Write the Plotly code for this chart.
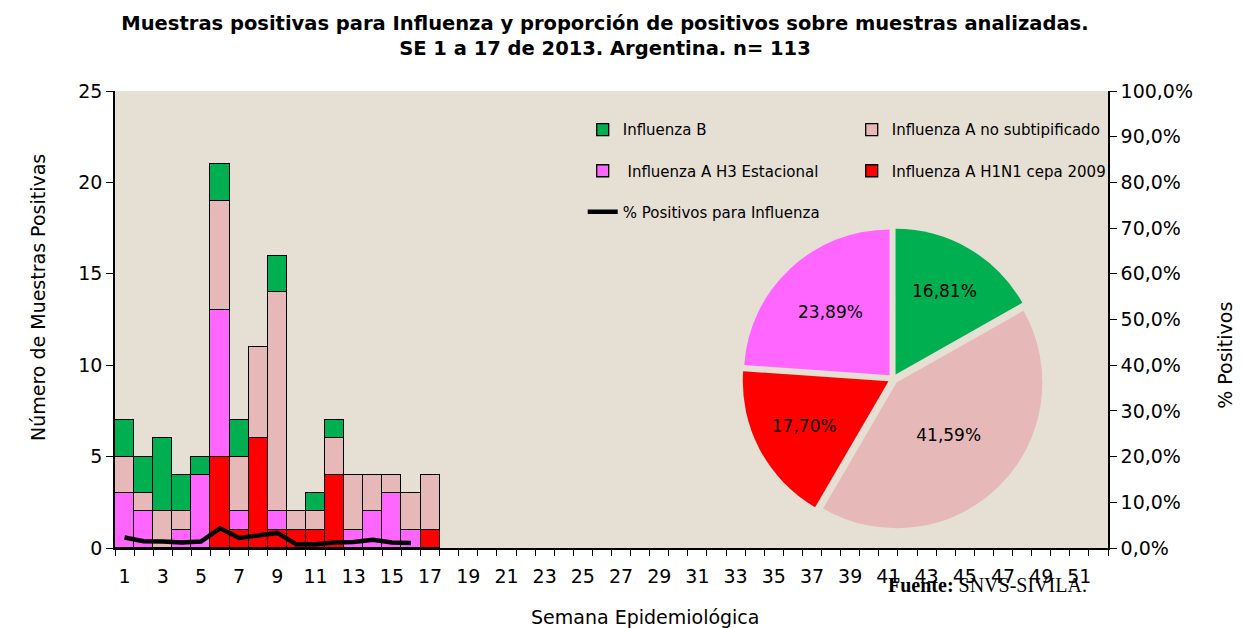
import plotly.graph_objects as go

weeks = list(range(1, 18))
h1n1 = [0, 0, 0, 0, 0, 5, 1, 6, 1, 1, 1, 4, 0, 0, 0, 0, 1]
h3 = [3, 2, 0, 1, 4, 8, 1, 0, 1, 0, 0, 0, 1, 2, 3, 1, 0]
a_nosub = [2, 1, 2, 1, 0, 6, 3, 5, 12, 1, 1, 2, 3, 2, 1, 2, 3]
flu_b = [2, 2, 4, 2, 1, 2, 2, 0, 2, 0, 1, 1, 0, 0, 0, 0, 0]
pct_weeks = list(range(1, 17))
pct_pos = [2.3, 1.5, 1.4, 1.2, 1.4, 4.3, 2.2, 2.7, 3.3, 0.8, 0.8, 1.2, 1.3, 1.8, 1.2, 1.1]
x_ticks = list(range(1, 52, 2))

pie_labels = ["Influenza B", "Influenza A no subtipificado",
              "Influenza A H1N1 cepa 2009", "Influenza A H3 Estacional"]
pie_values = [sum(flu_b), sum(a_nosub), sum(h1n1), sum(h3)]

C_RED = "#FF0000"
C_MAG = "#FF66FF"
C_PINK = "#E6B8B7"
C_GREEN = "#00B050"
FONT = "DejaVu Sans"

fig = go.Figure()
bar_line = dict(color="black", width=1.3)
fig.add_bar(x=weeks, y=h1n1, name="Influenza A H1N1 cepa 2009",
            marker=dict(color=C_RED, line=bar_line), legend="legend2", legendrank=2)
fig.add_bar(x=weeks, y=h3, name=" Influenza A H3 Estacional",
            marker=dict(color=C_MAG, line=bar_line), legend="legend2", legendrank=1)
fig.add_bar(x=weeks, y=a_nosub, name="Influenza A no subtipificado",
            marker=dict(color=C_PINK, line=bar_line), legend="legend", legendrank=2)
fig.add_bar(x=weeks, y=flu_b, name="Influenza B",
            marker=dict(color=C_GREEN, line=bar_line), legend="legend", legendrank=1)
fig.add_scatter(x=pct_weeks, y=pct_pos, yaxis="y2", mode="lines",
                name="% Positivos para Influenza",
                line=dict(color="black", width=4.5), legend="legend3")

fig.add_pie(labels=pie_labels, values=pie_values, sort=False, direction="clockwise",
            rotation=0, pull=0.035, showlegend=False,
            marker=dict(colors=[C_GREEN, C_PINK, C_RED, C_MAG], line=dict(width=0)),
            textinfo="percent", texttemplate="%{percent:.2%}",
            textposition="inside", insidetextorientation="horizontal",
            insidetextfont=dict(color="black", size=17, family=FONT),
            domain=dict(x=[0.6294, 0.9376], y=[0.04, 0.70]))

leg_common = dict(orientation="h", x=0.471, xanchor="left", yanchor="middle",
                  bgcolor="rgba(0,0,0,0)", font=dict(family=FONT, size=15, color="black"),
                  entrywidth=224, entrywidthmode="pixels", itemwidth=30,
                  traceorder="normal")

axis_title_font = dict(family=FONT, size=19, color="black")

# the page body adds an 8px offset; figure is sized to fill the rest of the window
fig.update_layout(
    width=1235, height=620,
    margin=dict(l=107, r=135, t=83, b=80, autoexpand=False),
    paper_bgcolor="white",
    plot_bgcolor="#E5DFD4",
    barmode="stack",
    bargap=0,
    separators=",.",
    title=dict(text="Muestras positivas para Influenza y proporción de positivos sobre muestras analizadas.<br>SE 1 a 17 de 2013. Argentina. n= 113",
               x=0.4834, xanchor="center", y=0.9645, yanchor="top",
               font=dict(family=FONT, size=19.5, color="black", weight="bold")),
    xaxis=dict(range=[0.5, 52.5], tickmode="array", tickvals=x_ticks, automargin=False,
               ticks="outside", ticklen=10, tickcolor="rgba(0,0,0,0)",
               minor=dict(tick0=0.5, dtick=1, ticks="outside", ticklen=6,
                          tickcolor="black", showgrid=False),
               showline=True, linecolor="black", linewidth=1.5, showgrid=False,
               zeroline=False,
               tickfont=dict(family=FONT, size=19, color="black")),
    yaxis=dict(range=[0, 25], dtick=5, ticks="outside", ticklen=7, tickcolor="black",
               automargin=False,
               showline=True, linecolor="black", linewidth=1.5, showgrid=False,
               zeroline=False,
               tickfont=dict(family=FONT, size=19, color="black")),
    yaxis2=dict(range=[0, 100], dtick=10, overlaying="y", side="right",
                automargin=False,
                tickformat=".1f", ticksuffix="%",
                ticks="outside", ticklen=7, tickcolor="black",
                showline=True, linecolor="black", linewidth=1.5, showgrid=False,
                zeroline=False,
                tickfont=dict(family=FONT, size=19, color="black")),
    legend=dict(y=0.915, **leg_common),
    legend2=dict(y=0.825, **leg_common),
    legend3=dict(y=0.735, **leg_common),
    annotations=[
        dict(text="Semana Epidemiológica", x=0.534, xref="paper", xanchor="center",
             y=-0.151, yref="paper", yanchor="middle", showarrow=False,
             font=axis_title_font),
        dict(text="Número de Muestras Positivas", x=-0.0775, xref="paper", xanchor="center",
             y=0.547, yref="paper", yanchor="middle", textangle=-90, showarrow=False,
             font=axis_title_font),
        dict(text="% Positivos", x=1.1175, xref="paper", xanchor="center",
             y=0.422, yref="paper", yanchor="middle", textangle=-90, showarrow=False,
             font=axis_title_font),
        dict(text="<b>Fuente:</b> SNVS-SIVILA.", x=0.776, xref="paper",
             xanchor="left", y=-0.081, yref="paper", yanchor="middle",
             showarrow=False,
             font=dict(family="Liberation Serif", size=20, color="black")),
    ],
)

fig.write_html("out.html")
